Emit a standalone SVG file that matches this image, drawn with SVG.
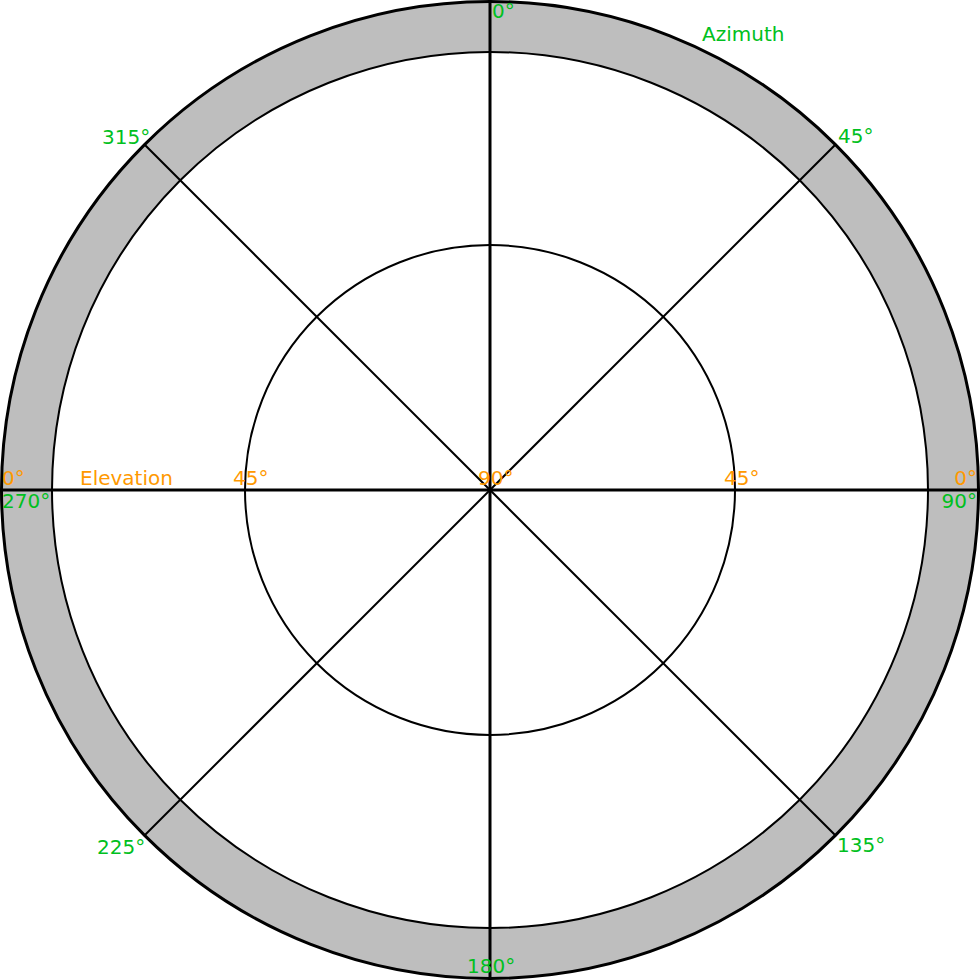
<svg xmlns="http://www.w3.org/2000/svg" width="980" height="980" viewBox="0 0 980 980">
<style>
.ring{fill:none;stroke:#000;stroke-width:2}
.ax{stroke:#000;stroke-width:3}
.dg{stroke:#000;stroke-width:2}
text{font-family:"DejaVu Sans",Verdana,sans-serif;font-size:20px}
.az{fill:#00c020}
.el{fill:#ff9900}
</style>
<rect width="980" height="980" fill="#fff"/>
<g id="outer-ring">
<circle cx="490" cy="490" r="488.5" fill="#bebebe" stroke="#000" stroke-width="3"/>
<circle cx="490" cy="490" r="438" fill="#fff" stroke="#000" stroke-width="2"/>
</g>
<g id="mid-ring"><circle class="ring" cx="490" cy="490" r="245"/></g>
<g id="connectors">
<line class="ax" x1="490" y1="0" x2="490" y2="980"/>
<line class="ax" x1="0" y1="490" x2="980" y2="490"/>
<line class="dg" x1="144.2" y1="144.2" x2="835.8" y2="835.8"/>
<line class="dg" x1="835.8" y1="144.2" x2="144.2" y2="835.8"/>
</g>
<g id="azimuth-labels">
<text class="az" x="492" y="18">0°</text>
<text class="az" x="702" y="41">Azimuth</text>
<text class="az" x="102" y="144">315°</text>
<text class="az" x="838" y="143">45°</text>
<text class="az" x="2" y="508">270°</text>
<text class="az" x="977" y="508" text-anchor="end">90°</text>
<text class="az" x="97" y="854">225°</text>
<text class="az" x="837" y="852">135°</text>
<text class="az" x="467" y="973">180°</text>
</g>
<g id="elevation-labels">
<text class="el" x="2" y="485">0°</text>
<text class="el" x="80" y="485">Elevation</text>
<text class="el" x="233" y="485">45°</text>
<text class="el" x="478" y="485">90°</text>
<text class="el" x="724" y="485">45°</text>
<text class="el" x="977" y="485" text-anchor="end">0°</text>
</g>
</svg>
